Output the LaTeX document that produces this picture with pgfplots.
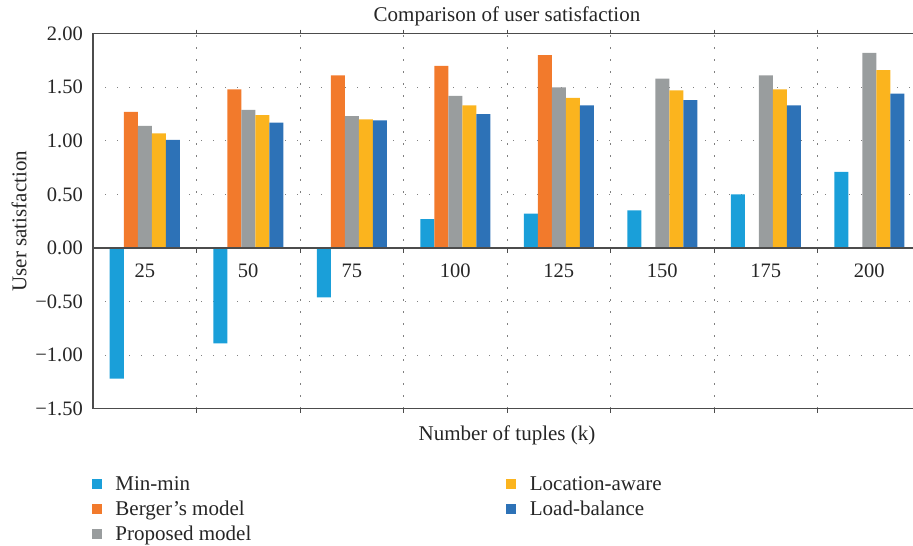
\documentclass[border=0pt]{standalone}
\usepackage{pgfplots}
\pgfplotsset{compat=1.18}
\usepackage{fontspec}
\setmainfont{Liberation Serif}
\definecolor{cMin}{RGB}{26,159,217}
\definecolor{cBer}{RGB}{242,122,44}
\definecolor{cPro}{RGB}{153,157,158}
\definecolor{cLoc}{RGB}{251,180,30}
\definecolor{cLoad}{RGB}{45,114,183}
\begin{document}
\begin{tikzpicture}
\useasboundingbox (0,0) rectangle (913pt,546pt);
\begin{axis}[
  at={(93pt,137.3pt)}, anchor=south west,
  scale only axis, width=828pt, height=375pt,
  ybar=0pt, bar width=14pt,
  xmin=-0.5, xmax=7.5, ymin=-1.5, ymax=2,
  xtick={0,...,7},
  xticklabels={25,50,75,100,125,150,175,200},
  major x tick style={draw=none},
  minor xtick={0.5,1.5,...,6.5},
  xminorgrids=true,
  minor tick length=4pt,
  minor x tick style={black!70, line width=0.8pt},
  xticklabel style={anchor=center, yshift=142pt},
  ytick={-1.5,-1,-0.5,0,0.5,1,1.5,2},
  yticklabels={−1.50,−1.00,−0.50,0.00,0.50,1.00,1.50,2.00},
  ytick style={draw=none},
  yticklabel style={anchor=east, inner xsep=0pt, xshift=-10pt},
  ymajorgrids=true,
  grid style={dash pattern=on 1.4pt off 10.6pt, black!50, line width=1pt},
  minor grid style={dash pattern=on 1.4pt off 10.6pt, black!50, line width=1pt},
  axis line style={black!70, line width=1.2pt},
  tick label style={font=\fontsize{20.5}{24}\selectfont, text=black!85},
  title={Comparison of user satisfaction},
  title style={font=\fontsize{21}{25}\selectfont, text=black!85, anchor=center, at={(axis description cs:0.5,1.031)}},
  xlabel={Number of tuples (k)},
  xlabel style={font=\fontsize{21}{25}\selectfont, text=black!85, anchor=center, at={(axis description cs:0.5,-0.0701)}},
  ylabel={User satisfaction},
  ylabel style={font=\fontsize{21}{25}\selectfont, text=black!85, anchor=center, rotate=0, at={(axis description cs:-0.0894,0.5)}},
  legend cell align=left,
  transpose legend,
  legend columns=3,
  legend image code/.code={\path[#1,draw=none] (0pt,-5pt) rectangle (10pt,5pt);},
  legend style={at={(axis description cs:-0.0015,-0.174)}, anchor=north west, draw=none, fill=none,
    font=\fontsize{21}{25}\selectfont, text=black!85,
    row sep=5.3pt, inner sep=0pt,
    /tikz/every odd column/.append style={column sep=11.5pt},
    /tikz/every even column/.append style={column sep=253pt}},
]
\addplot[fill=cMin, draw=none] coordinates {(0,-1.22) (1,-0.89) (2,-0.46) (3,0.27) (4,0.32) (5,0.35) (6,0.50) (7,0.71)};
\addlegendentry{Min-min}
\addplot[fill=cBer, draw=none] coordinates {(0,1.27) (1,1.48) (2,1.61) (3,1.70) (4,1.80)};
\addlegendentry{Berger’s model}
\addplot[fill=cPro, draw=none] coordinates {(0,1.14) (1,1.29) (2,1.23) (3,1.42) (4,1.50) (5,1.58) (6,1.61) (7,1.82)};
\addlegendentry{Proposed model}
\addplot[fill=cLoc, draw=none] coordinates {(0,1.07) (1,1.24) (2,1.20) (3,1.33) (4,1.40) (5,1.47) (6,1.48) (7,1.66)};
\addlegendentry{Location-aware}
\addplot[fill=cLoad, draw=none] coordinates {(0,1.01) (1,1.17) (2,1.19) (3,1.25) (4,1.33) (5,1.38) (6,1.33) (7,1.44)};
\addlegendentry{Load-balance}
\draw[black!70, line width=1.2pt] (axis cs:-0.5,0) -- (axis cs:7.5,0);
\pgfplotsinvokeforeach{0.5,1.5,2.5,3.5,4.5,5.5,6.5}{\draw[black!70, line width=0.8pt] (axis cs:#1,0) -- (axis cs:#1,-0.045);}
\end{axis}
\end{tikzpicture}
\end{document}
